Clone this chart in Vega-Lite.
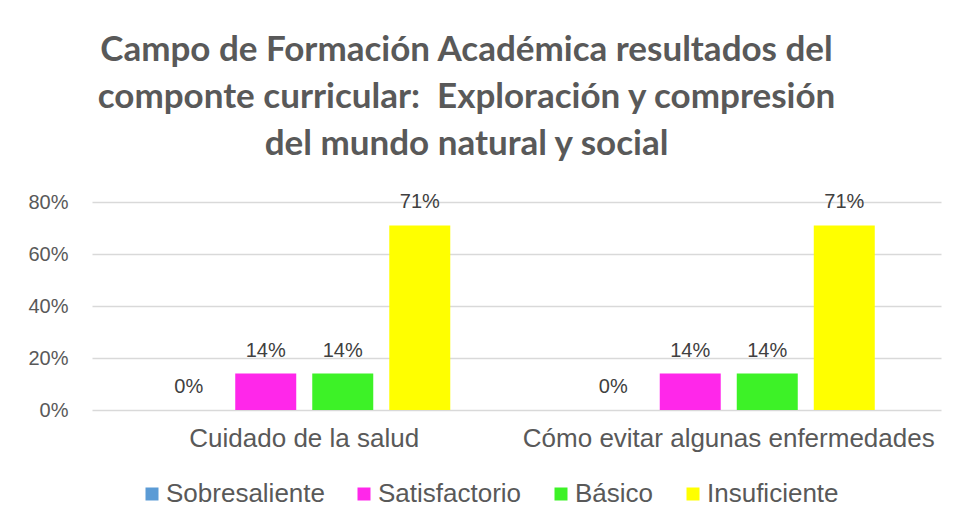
{
  "$schema": "https://vega.github.io/schema/vega-lite/v6.json",
  "width": 849,
  "height": 208,
  "autosize": {"type": "none"},
  "padding": {"left": 92, "top": 202, "right": 15, "bottom": 119},
  "background": "white",
  "title": {
    "text": ["Campo de Formación Académica resultados del", "componte curricular:\u00a0 Exploración y compresión", "del mundo natural y social"],
    "font": "Lato",
    "fontSize": 35,
    "fontWeight": "bold",
    "color": "#595959",
    "lineHeight": 47,
    "anchor": "middle",
    "dx": -50,
    "offset": 30
  },
  "data": {
    "values": [
      {"componente": "Cuidado de la salud", "nivel": "Sobresaliente", "valor": 0},
      {"componente": "Cuidado de la salud", "nivel": "Satisfactorio", "valor": 0.14},
      {"componente": "Cuidado de la salud", "nivel": "Básico", "valor": 0.14},
      {"componente": "Cuidado de la salud", "nivel": "Insuficiente", "valor": 0.71},
      {"componente": "Cómo evitar algunas enfermedades", "nivel": "Sobresaliente", "valor": 0},
      {"componente": "Cómo evitar algunas enfermedades", "nivel": "Satisfactorio", "valor": 0.14},
      {"componente": "Cómo evitar algunas enfermedades", "nivel": "Básico", "valor": 0.14},
      {"componente": "Cómo evitar algunas enfermedades", "nivel": "Insuficiente", "valor": 0.71}
    ]
  },
  "encoding": {
    "x": {
      "field": "componente",
      "type": "nominal",
      "sort": ["Cuidado de la salud", "Cómo evitar algunas enfermedades"],
      "scale": {"paddingInner": 0, "paddingOuter": 0},
      "axis": {
        "title": null,
        "labelAngle": 0,
        "labelLimit": 0,
        "ticks": false,
        "domain": false,
        "labelFont": "Liberation Sans",
        "labelFontSize": 26,
        "labelColor": "#595959",
        "labelPadding": 15
      }
    },
    "xOffset": {
      "field": "nivel",
      "type": "nominal",
      "sort": ["Sobresaliente", "Satisfactorio", "Básico", "Insuficiente"],
      "scale": {"paddingInner": 0.208, "paddingOuter": 0.86}
    },
    "y": {
      "field": "valor",
      "type": "quantitative",
      "scale": {"domain": [0, 0.8]},
      "axis": {
        "title": null,
        "format": ".0%",
        "values": [0, 0.2, 0.4, 0.6, 0.8],
        "ticks": false,
        "domain": false,
        "labelFont": "Liberation Sans",
        "labelFontSize": 20,
        "labelColor": "#595959",
        "labelPadding": 24,
        "gridColor": "#d9d9d9",
        "gridWidth": 1.5
      }
    }
  },
  "layer": [
    {
      "mark": {"type": "bar"},
      "encoding": {
        "color": {
          "field": "nivel",
          "type": "nominal",
          "sort": ["Sobresaliente", "Satisfactorio", "Básico", "Insuficiente"],
          "scale": {
            "domain": ["Sobresaliente", "Satisfactorio", "Básico", "Insuficiente"],
            "range": ["#5B9BD5", "#FF27EA", "#3DF227", "#FFFF00"]
          },
          "legend": {
            "title": null,
            "orient": "none",
            "legendX": 47,
            "legendY": 279,
            "direction": "horizontal",
            "symbolType": "square",
            "symbolSize": 169,
            "symbolStrokeWidth": 0,
            "labelFont": "Liberation Sans",
            "labelFontSize": 26,
            "labelColor": "#595959",
            "labelOffset": 1,
            "labelLimit": 0,
            "columnPadding": 26
          }
        }
      }
    },
    {
      "mark": {"type": "text", "baseline": "alphabetic", "dy": -17, "font": "Liberation Sans", "fontSize": 20, "color": "#404040"},
      "encoding": {
        "text": {"field": "valor", "type": "quantitative", "format": ".0%"}
      }
    }
  ],
  "config": {"view": {"stroke": null}}
}
